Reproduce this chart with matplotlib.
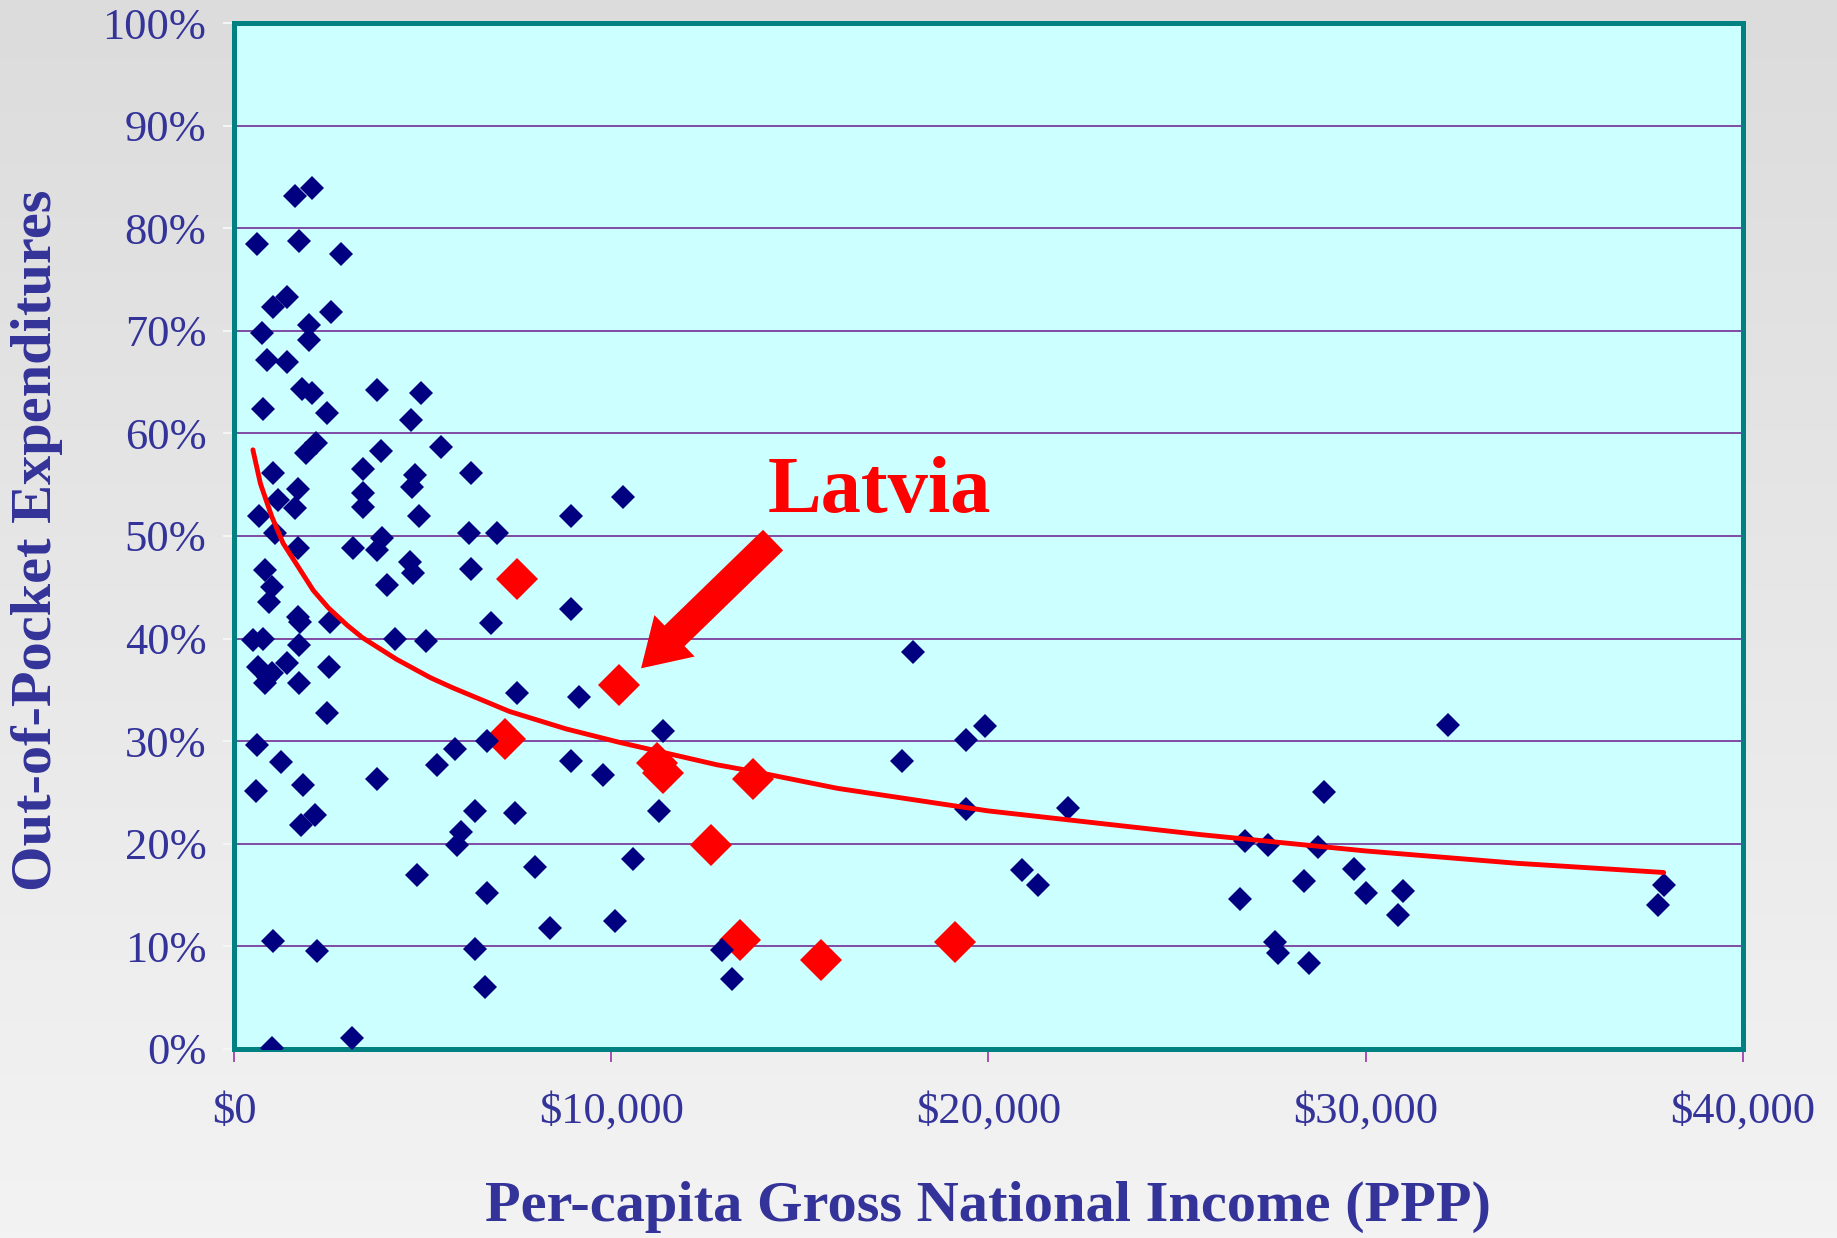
import matplotlib.pyplot as plt
import numpy as np
from matplotlib.ticker import FuncFormatter

# Per-capita GNI (PPP), thousands of dollars, and out-of-pocket share (%)
other_gni = [
    0.61, 1.62, 2.07, 1.72, 2.84, 1.03, 1.40, 2.57, 0.74, 1.99, 1.99,
    0.87, 1.40, 1.80, 2.07, 0.77, 2.47, 3.79, 4.69, 4.96,
    1.91, 2.17, 3.90, 5.49, 1.03, 3.42, 4.80, 6.28,
    1.70, 1.17, 1.62, 0.66, 3.42, 3.42, 4.72, 4.90, 10.30, 8.93,
    1.09, 1.70, 3.15, 3.80, 3.92, 6.23, 6.97,
    0.82, 4.67, 4.75, 6.28, 4.06,
    1.00, 0.93, 1.70, 1.75, 2.54, 8.93, 6.81,
    0.50, 0.77, 1.72, 4.27, 5.09,
    0.64, 0.90, 1.00, 0.82, 1.40, 1.72, 2.52,
    7.50, 9.15, 2.47, 11.37, 6.70, 5.86, 0.61,
    1.25, 5.38, 8.93, 9.78, 3.79, 1.83, 0.58,
    6.39, 7.45, 11.27, 2.15, 1.78, 6.02, 5.91, 10.58, 4.85, 7.98, 6.70,
    10.10, 8.38, 6.39, 12.94, 13.20, 6.65, 1.03, 2.20, 1.00, 3.13,
    17.70, 18.00, 19.40, 19.90, 19.40, 20.90, 21.30, 22.10,
    26.80, 27.40, 28.73, 29.69, 28.36, 26.67, 30.00, 31.00, 30.85,
    27.60, 27.68, 28.50, 28.89, 32.18, 37.90, 37.75,
]
other_oop = [
    78.5, 83.1, 83.9, 78.8, 77.5, 72.3, 73.3, 71.8, 69.8, 70.6, 69.1,
    67.2, 67.0, 64.3, 63.9, 62.4, 62.0, 64.2, 61.3, 63.9,
    58.1, 59.1, 58.3, 58.7, 56.1, 56.5, 55.9, 56.1,
    54.6, 53.5, 52.7, 51.9, 54.2, 52.8, 54.8, 51.9, 53.8, 51.9,
    50.3, 48.8, 48.8, 48.6, 49.8, 50.3, 50.3,
    46.7, 47.5, 46.4, 46.8, 45.2,
    45.0, 43.6, 42.1, 41.6, 41.6, 42.9, 41.5,
    39.9, 40.0, 39.4, 40.0, 39.8,
    37.2, 36.3, 36.6, 35.7, 37.6, 35.7, 37.2,
    34.7, 34.3, 32.7, 31.0, 30.0, 29.2, 29.6,
    28.0, 27.7, 28.1, 26.7, 26.3, 25.7, 25.1,
    23.2, 23.0, 23.2, 22.8, 21.8, 21.1, 19.9, 18.5, 17.0, 17.7, 15.2,
    12.5, 11.8, 9.7, 9.6, 6.8, 6.0, 10.5, 9.5, 0.1, 1.1,
    28.1, 38.7, 30.1, 31.5, 23.4, 17.4, 16.0, 23.5,
    20.3, 19.9, 19.7, 17.5, 16.4, 14.6, 15.2, 15.4, 13.1,
    10.4, 9.4, 8.4, 25.0, 31.6, 16.0, 14.0,
]

highlight_gni = [7.50, 7.18, 10.20, 11.20, 11.37, 13.75, 12.64, 13.40, 15.55, 19.10]
highlight_oop = [45.8, 30.2, 35.5, 27.9, 26.9, 26.3, 19.9, 10.6, 8.7, 10.4]

# trend line
trend_gni = [0.5, 0.7, 1.0, 1.3, 1.7, 2.1, 2.5, 3.0, 3.4, 4.3, 5.2, 5.8,
             7.3, 8.8, 10.2, 11.5, 12.8, 13.7, 16.0, 20.0, 25.6, 30.0,
             34.0, 37.9]
trend_oop = [58.4, 55.1, 51.9, 49.3, 47.0, 44.7, 43.0, 41.3, 40.1, 38.0,
             36.2, 35.2, 32.9, 31.2, 29.9, 28.8, 27.7, 27.1, 25.4, 23.2,
             20.9, 19.3, 18.1, 17.2]

latvia_label = "Latvia"
latvia_gni, latvia_oop = 10.79, 37.1
label_gni, label_oop = 17.12, 52.3
arrow_tail = (14.29, 49.6)

x_ticks = [0, 10, 20, 30, 40]
y_ticks = list(range(0, 101, 10))

TEXT_BLUE = "#333399"
SERIF = ["Liberation Serif", "DejaVu Serif"]

plt.rcParams["font.family"] = SERIF

fig = plt.figure(figsize=(18.37, 12.38), dpi=100)

# ==========================================================
# Grey gradient background
# ==========================================================

background = fig.add_axes([0, 0, 1, 1], zorder=-10)
shade = np.linspace(220, 243, 256)[:, None] / 255.0
background.imshow(
    np.dstack([shade, shade, shade]),
    aspect="auto",
    extent=[0, 1, 0, 1],
)
background.set_axis_off()

# ==========================================================
# Scatter chart
# ==========================================================

ax = fig.add_axes([0.1274, 0.1527, 0.8214, 0.8287])
ax.set_facecolor("#ccffff")

ax.plot(
    highlight_gni,
    highlight_oop,
    linestyle="none",
    marker="D",
    markersize=21,
    markerfacecolor="#ff0000",
    markeredgewidth=0,
    zorder=3,
)

ax.plot(
    other_gni,
    other_oop,
    linestyle="none",
    marker="D",
    markersize=12.5,
    markerfacecolor="#000080",
    markeredgewidth=0,
    zorder=4,
)

ax.plot(
    trend_gni,
    trend_oop,
    color="#ff0000",
    linewidth=3.5,
    solid_capstyle="round",
    solid_joinstyle="round",
    zorder=5,
)

ax.annotate(
    "",
    xy=(latvia_gni, latvia_oop),
    xytext=arrow_tail,
    arrowprops=dict(
        arrowstyle="simple,head_length=33.6,head_width=41.6,tail_width=20.7",
        mutation_scale=1,
        shrinkA=0,
        shrinkB=0,
        facecolor="#ff0000",
        edgecolor="none",
    ),
    zorder=6,
)

ax.text(
    label_gni,
    label_oop,
    latvia_label,
    ha="center",
    va="baseline",
    fontsize=58,
    fontweight="bold",
    color="#ff0000",
    zorder=6,
)

ax.set_xlim(0, 40)
ax.set_ylim(0, 100)
ax.set_xticks(x_ticks)
ax.set_yticks(y_ticks)
ax.xaxis.set_major_formatter(FuncFormatter(lambda v, _: f"${v * 1000:,.0f}"))
ax.yaxis.set_major_formatter(FuncFormatter(lambda v, _: f"{v:.0f}%"))

ax.grid(axis="y", color="#7a3d9c", linewidth=1.3, zorder=1)
ax.set_axisbelow(True)

for spine in ax.spines.values():
    spine.set_color("#008080")
    spine.set_linewidth(3.6)

ax.tick_params(
    axis="x",
    direction="out",
    length=9,
    width=1.2,
    color="#9933aa",
    pad=22,
    labelsize=32,
    labelcolor=TEXT_BLUE,
)
ax.tick_params(
    axis="y",
    direction="out",
    length=8,
    width=1.5,
    color="#f5f5f5",
    pad=12,
    labelsize=32,
    labelcolor=TEXT_BLUE,
)

fig.text(
    988 / 1837,
    1 - 1207 / 1238,
    "Per-capita Gross National Income (PPP)",
    ha="center",
    va="center",
    fontsize=42,
    fontweight="bold",
    color=TEXT_BLUE,
)
fig.text(
    37 / 1837,
    1 - 540 / 1238,
    "Out-of-Pocket Expenditures",
    ha="center",
    va="center",
    rotation=90,
    fontsize=42,
    fontweight="bold",
    color=TEXT_BLUE,
)

fig.savefig("out.png", dpi=100)
